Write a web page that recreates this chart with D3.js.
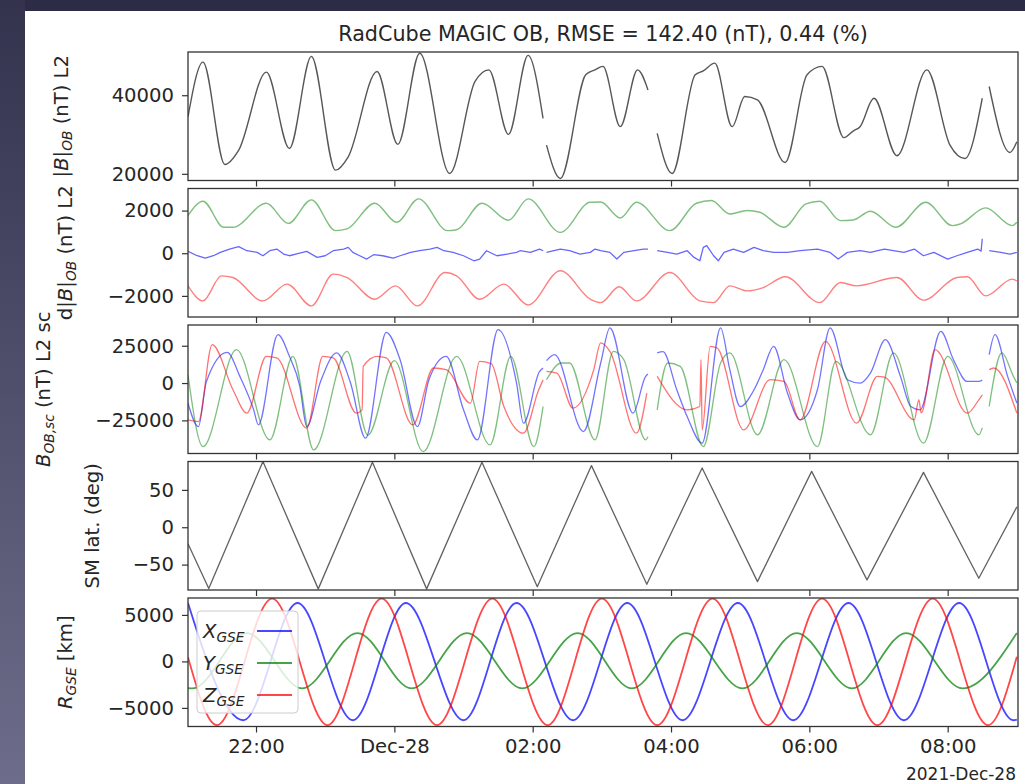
<!DOCTYPE html>
<html><head><meta charset="utf-8">
<script src="https://cdn.jsdelivr.net/npm/d3@7"></script>
<style>
body{margin:0;background:#2d2c46;overflow:hidden}
svg{display:block}
text{font-family:"DejaVu Sans",sans-serif}
</style></head>
<body>
<script>
// ---------------- DATA ----------------
const titleText = "RadCube MAGIC OB, RMSE = 142.40 (nT), 0.44 (%)";
const xTickTimes = ["22:00","00:00","02:00","04:00","06:00","08:00"];
const xTickLabels = ["22:00","Dec-28","02:00","04:00","06:00","08:00"];
const dateLabel = "2021-Dec-28";

const p1Ticks = [20000, 40000];
const p2Ticks = [-2000, 0, 2000];
const p3Ticks = [-25000, 0, 25000];
const p4Ticks = [-50, 0, 50];
const p5Ticks = [-5000, 0, 5000];

// Panel 1: |B|_OB (nT)
const bMag = [["21:01",34500],["21:14",48430],["21:33",22380],["21:45",26030],["22:09",45870],["22:29",26460],["22:48",49880],["23:09",20930],["23:20",24340],["23:45",46050],["00:03",27490],["00:22",50700],["00:48",20080],["01:10",43500],["01:22",46460],["01:39",30040],["01:56",50140],["02:09",34130],["02:10",null],["02:12",27310],["02:24",18800],["02:46",45200],["02:54",46460],["03:01",47330],["03:16",32000],["03:31",46460],["03:40",41350],["03:44",null],["03:48",30300],["04:01",20080],["04:21",45200],["04:28",46200],["04:38",48170],["04:53",32000],["05:04",39670],["05:15",38800],["05:39",22890],["05:58",45200],["06:11",47330],["06:30",29200],["06:38",30880],["06:44",32000],["06:56",39230],["07:16",24600],["07:42",46460],["08:02",27310],["08:15",23910],["08:30",39230],["08:33",null],["08:36",42220],["08:54",25440],["09:00",28170]];

// Panel 2: d|B|_OB (nT)
const dBGreen = [["21:01",1765],["21:14",2440],["21:32",1215],["21:40",1215],["22:09",2345],["22:28",1400],["22:48",2500],["23:09",1060],["23:19",1140],["23:43",2345],["00:02",1450],["00:21",2550],["00:46",1060],["00:54",1100],["01:16",2345],["01:39",1545],["01:56",2550],["02:24",980],["02:50",2390],["02:59",2400],["03:16",1655],["03:30",2390],["03:59",1060],["04:22",2345],["04:35",2470],["04:51",1840],["05:06",2000],["05:17",1920],["05:38",1215],["05:57",2310],["06:09",2440],["06:27",1530],["06:38",1560],["06:53",1970],["07:15",1215],["07:41",2390],["08:04",1295],["08:11",1375],["08:33",2125],["08:56",1295],["09:00",1450]];
const dBBlue = [["21:01",86],["21:09",-118],["21:16",-230],["21:23",-118],["21:29",39],["21:37",196],["21:45",306],["21:52",118],["22:01",39],["22:06",-118],["22:12",118],["22:18",196],["22:24",-39],["22:29",-118],["22:37",-8],["22:44",86],["22:53",-196],["23:00",-118],["23:07",118],["23:16",196],["23:20",273],["23:24",39],["23:30",-118],["23:36",-273],["23:42",-70],["23:50",-118],["23:59",-230],["00:05",-118],["00:14",39],["00:22",118],["00:31",196],["00:37",273],["00:43",118],["00:51",39],["01:00",-118],["01:09",-353],["01:14",-273],["01:20",118],["01:29",-118],["01:38",-39],["01:46",39],["01:49",118],["01:58",39],["02:06",196],["02:09",118],["02:10",null],["02:12",39],["02:24",196],["02:32",118],["02:41",-39],["02:50",39],["02:54",196],["02:59",118],["03:07",39],["03:13",-273],["03:19",39],["03:28",118],["03:36",196],["03:40",196],["03:44",null],["03:48",118],["03:57",39],["04:05",-39],["04:14",118],["04:20",-196],["04:25",-353],["04:28",273],["04:31",353],["04:37",-118],["04:41",-353],["04:46",39],["04:54",196],["05:03",39],["05:12",273],["05:20",118],["05:29",39],["05:41",39],["05:52",118],["06:07",196],["06:18",39],["06:25",-273],["06:33",39],["06:44",118],["06:53",39],["07:05",196],["07:13",118],["07:22",39],["07:31",196],["07:39",-118],["07:48",39],["08:00",-273],["08:08",-118],["08:17",39],["08:26",196],["08:29",100],["08:30",680],["08:33",null],["08:36",118],["08:46",39],["08:54",-39],["09:00",39]];
const dBRed = [["21:01",-1530],["21:14",-2235],["21:30",-1060],["21:40",-1140],["22:06",-2235],["22:27",-1450],["22:48",-2470],["23:07",-980],["23:19",-1140],["23:43",-2155],["00:01",-1530],["00:20",-2470],["00:44",-905],["00:54",-1060],["01:14",-2155],["01:35",-1450],["01:56",-2425],["02:24",-820],["02:50",-2155],["02:59",-2315],["03:15",-1575],["03:30",-2235],["03:59",-905],["04:25",-2235],["04:37",-2315],["04:51",-1530],["05:06",-1765],["05:20",-1610],["05:39",-1105],["06:09",-2315],["06:27",-1375],["06:41",-1530],["07:16",-1140],["07:39",-2200],["08:08",-1140],["08:17",-1105],["08:33",-2000],["08:56",-1215],["09:00",-1300]];

// Panel 3: B_OB,sc (nT)
const bScX = [["21:01",-13440],["21:10",-29170],["21:17",1075],["21:35",20560],["21:46",4480],["21:58",-17940],["22:02",-28020],["22:19",32460],["22:29",17880],["22:38",-2280],["22:44",-29170],["22:56",1075],["23:10",20160],["23:22",0],["23:35",-36960],["23:53",34000],["00:05",15660],["00:20",-29170],["00:30",2240],["00:45",17880],["01:00",-17940],["01:12",-38100],["01:30",35820],["01:46",0],["01:52",-26900],["02:06",7800],["02:09",10000],["02:10",null],["02:12",15000],["02:19",19000],["02:44",-32500],["02:59",13440],["03:07",36960],["03:27",-20160],["03:38",4480],["03:40",6000],["03:44",null],["03:48",20160],["03:53",21000],["04:05",-4500],["04:14",-22450],["04:27",-40300],["04:43",36960],["04:51",8940],["05:00",-15720],["05:12",-4500],["05:20",8940],["05:29",24600],["05:41",-6720],["05:52",-24660],["06:07",-4500],["06:18",36960],["06:33",2240],["06:44",0],["06:53",6720],["07:06",29100],["07:19",4480],["07:28",-15720],["07:36",-17940],["07:54",34680],["08:05",15660],["08:17",1075],["08:27",1075],["08:30",2000],["08:33",null],["08:36",19000],["08:41",32460],["08:52",4480],["09:00",-13440]];
const bScY = [["21:01",5580],["21:14",-42600],["21:43",22380],["22:12",-38100],["22:32",17880],["22:50",-44820],["23:19",21240],["23:37",-35000],["00:00",15000],["00:25",-45960],["00:54",17880],["01:23",-41460],["01:41",17880],["02:01",-42600],["02:09",-15720],["02:10",null],["02:12",2240],["02:25",13440],["02:32",13440],["02:54",-38100],["03:10",21240],["03:19",15660],["03:38",-38100],["03:40",-36000],["03:44",null],["03:48",-17940],["03:57",13440],["04:08",11200],["04:28",-42600],["04:43",13440],["04:51",20160],["05:15",-34700],["05:38",15660],["06:07",-42600],["06:23",14520],["06:53",-34700],["07:13",20160],["07:39",-40300],["08:00",17880],["08:27",-34700],["08:30",-30000],["08:33",null],["08:36",-15720],["08:47",20160],["08:57",4480],["09:00",0]];
const bScZ = [["21:01",-24660],["21:10",-25800],["21:22",25740],["21:40",-4500],["21:52",-20160],["22:09",17880],["22:18",16800],["22:44",-30240],["22:58",17880],["23:07",16800],["23:27",-20160],["23:32",-18000],["23:33",11200],["23:45",17880],["23:53",16800],["00:16",-28020],["00:34",10080],["00:45",8940],["01:06",-13440],["01:14",14520],["01:24",13000],["01:35",-15720],["01:52",-33600],["02:05",-5000],["02:09",2000],["02:10",null],["02:12",7800],["02:21",6720],["02:35",-16800],["02:53",8960],["02:59",26880],["03:07",21240],["03:30",-33600],["03:39",-6720],["03:44",null],["03:48",4480],["04:14",-17940],["04:25",-15720],["04:26",15660],["04:27",-31400],["04:34",24600],["04:40",23500],["05:03",-31400],["05:26",2240],["05:38",1075],["05:52",-24660],["06:14",27960],["06:41",-26880],["06:59",4480],["07:05",4000],["07:31",-24660],["07:35",-11200],["07:37",-20000],["07:49",22380],["08:17",-20160],["08:27",-11200],["08:30",-8000],["08:33",null],["08:36",8960],["08:40",10080],["09:00",-20160]];

// Panel 4: SM latitude (deg)
const smLat = [["21:01",-22],["21:19",-82],["22:06",88],["22:54",-82.5],["23:41",87],["00:28",-82.5],["01:16",87],["02:04",-79.6],["02:51",82.5],["03:39",-76.4],["04:27",79.4],["05:15",-72.8],["06:02",74.8],["06:50",-70.5],["07:39",73.4],["08:27",-68.3],["09:00",27.2]];

// Panel 5: R_GSE (km)
const gseX = [["21:01",6280],["21:49",-6330],["22:36",6280],["23:24",-6330],["00:10",6280],["01:00",-6330],["01:46",6280],["02:35",-6330],["03:22",6280],["04:10",-6330],["04:58",6280],["05:46",-6330],["06:34",6280],["07:22",-6330],["08:10",6280],["08:57",-6330],["09:00",-6250]];
const gseY = [["21:01",-2880],["21:05",-2900],["21:52",3050],["22:40",-2900],["23:28",3050],["00:15",-2900],["01:03",3050],["01:51",-2900],["02:39",3050],["03:26",-2900],["04:13",3050],["05:02",-2900],["05:49",3050],["06:37",-2900],["07:24",3050],["08:13",-2900],["09:00",3050]];
const gseZ = [["21:01",450],["21:26",-6850],["22:14",6750],["23:02",-6850],["23:49",6750],["00:37",-6850],["01:25",6750],["02:13",-6850],["03:00",6750],["03:48",-6850],["04:36",6750],["05:24",-6850],["06:11",6750],["06:59",-6850],["07:47",6750],["08:35",-6850],["09:00",500]];
const legendNames = ["X","Y","Z"];
const legendSub = "GSE";

// ---------------- DRAWING ----------------
const W = 1025, H = 784;
const FS = 19.6;      // tick labels / y labels
const FS_TITLE = 20.7;
const FS_DATE = 17;
const parseT = s => { const [h, m] = s.split(":").map(Number); return new Date(2021, 11, h >= 12 ? 27 : 28, h, m); };
const fmtNum = d => d < 0 ? "\u2212" + Math.abs(d) : String(d);

const svg = d3.select("body").append("svg").attr("width", W).attr("height", H);
const defs = svg.append("defs");
const lg = defs.append("linearGradient").attr("id", "lg").attr("x1", 0).attr("y1", 0).attr("x2", 0).attr("y2", 1);
lg.append("stop").attr("offset", "0%").attr("stop-color", "#34334e");
lg.append("stop").attr("offset", "100%").attr("stop-color", "#6d6c8a");
svg.append("rect").attr("width", W).attr("height", H).attr("fill", "#2d2c46");
svg.append("rect").attr("width", 25).attr("height", H).attr("fill", "url(#lg)");
svg.append("rect").attr("x", 25).attr("y", 11).attr("width", W - 25).attr("height", H - 11).attr("fill", "#ffffff");

const X0 = 188, X1 = 1018, PH = 128.5;
const tops = [52, 188.5, 325, 461.5, 598];
const x = d3.scaleTime().domain([new Date(2021, 11, 27, 21, 1), new Date(2021, 11, 28, 9, 1)]).range([X0, X1]);
const xTicks = xTickTimes.map(parseT);

const panels = [
  { domain: [18300, 51000], ticks: p1Ticks, labelX: 61,
    label: [["|",""],["B","i"],["|",""],["OB","s"],[" (nT) L2",""]],
    series: [{ data: bMag, color: "#3a3a3a", op: 0.85, w: 1.4, curve: d3.curveMonotoneX }] },
  { domain: [-2990, 3035], ticks: p2Ticks, labelX: 65,
    label: [["d|",""],["B","i"],["|",""],["OB","s"],[" (nT) L2",""]],
    series: [
      { data: dBGreen, color: "#008000", op: 0.5, w: 1.4, curve: d3.curveMonotoneX },
      { data: dBBlue, color: "#0000ff", op: 0.6, w: 1.3, curve: d3.curveLinear },
      { data: dBRed, color: "#ff0000", op: 0.5, w: 1.4, curve: d3.curveMonotoneX } ] },
  { domain: [-47200, 38900], ticks: p3Ticks, labelX: 43,
    label: [["B","i"],["OB,sc","s"],[" (nT) L2 sc",""]],
    series: [
      { data: bScX, color: "#0000ff", op: 0.55, w: 1.3, curve: d3.curveMonotoneX },
      { data: bScY, color: "#008000", op: 0.5, w: 1.3, curve: d3.curveMonotoneX },
      { data: bScZ, color: "#ff0000", op: 0.55, w: 1.3, curve: d3.curveMonotoneX } ] },
  { domain: [-84, 88], ticks: p4Ticks, labelX: 92,
    label: [["SM lat. (deg)",""]],
    series: [{ data: smLat, color: "#3a3a3a", op: 0.8, w: 1.3, curve: d3.curveLinear }] },
  { domain: [-7000, 6820], ticks: p5Ticks, labelX: 65,
    label: [["R","i"],["GSE","s"],[" [km]",""]],
    series: [
      { data: gseX, color: "#0000ff", op: 0.72, w: 1.8, curve: d3.curveMonotoneX },
      { data: gseY, color: "#008000", op: 0.72, w: 1.8, curve: d3.curveMonotoneX },
      { data: gseZ, color: "#ff0000", op: 0.72, w: 1.8, curve: d3.curveMonotoneX } ] }
];

function styleAxis(g) {
  g.attr("font-size", null).attr("font-family", null);
  g.select(".domain").remove();
  g.selectAll(".tick line").attr("stroke", "#333").attr("stroke-width", 1.2);
  g.selectAll(".tick text").attr("fill", "#262626").style("font-size", FS + "px").style("font-family", "DejaVu Sans");
}

function mathText(sel, parts, size) {
  let shifted = false;
  parts.forEach(([t, st]) => {
    const ts = sel.append("tspan").text(t);
    if (st === "i") ts.attr("font-style", "italic");
    if (st === "s") {
      ts.attr("font-style", "italic").style("font-size", (size * 0.7) + "px").attr("dy", size * 0.22);
      shifted = true;
    } else if (shifted) {
      ts.attr("dy", -size * 0.22); shifted = false;
    }
  });
}

panels.forEach((p, i) => {
  const top = tops[i];
  const y = d3.scaleLinear().domain(p.domain).range([top + PH, top]);
  const g = svg.append("g");
  const cid = "clip" + i;
  defs.append("clipPath").attr("id", cid).append("rect")
    .attr("x", X0).attr("y", top).attr("width", X1 - X0).attr("height", PH);

  const lines = g.append("g").attr("clip-path", `url(#${cid})`);
  p.series.forEach(s => {
    const line = d3.line()
      .defined(d => d[1] !== null)
      .x(d => x(parseT(d[0])))
      .y(d => y(d[1]))
      .curve(s.curve);
    lines.append("path").attr("d", line(s.data)).attr("fill", "none")
      .attr("stroke", s.color).attr("stroke-opacity", s.op).attr("stroke-width", s.w)
      .attr("stroke-linejoin", "round");
  });

  const ya = g.append("g").attr("transform", `translate(${X0},0)`)
    .call(d3.axisLeft(y).tickValues(p.ticks).tickSize(6).tickPadding(8).tickFormat(fmtNum));
  styleAxis(ya);

  const xa = g.append("g").attr("transform", `translate(0,${top + PH})`)
    .call(d3.axisBottom(x).tickValues(xTicks).tickSize(6).tickPadding(7)
      .tickFormat((d, k) => i === 4 ? xTickLabels[k] : ""));
  styleAxis(xa);

  g.append("rect").attr("x", X0).attr("y", top).attr("width", X1 - X0).attr("height", PH)
    .attr("fill", "none").attr("stroke", "#333").attr("stroke-width", 1.3);

  const lt = g.append("text")
    .attr("transform", `translate(${p.labelX},${top + PH / 2}) rotate(-90)`)
    .attr("y", 7).attr("text-anchor", "middle").attr("fill", "#262626")
    .style("font-size", FS + "px");
  mathText(lt, p.label, FS);

  if (i === 4) {
    const lgG = g.append("g");
    lgG.append("rect").attr("x", 197).attr("y", 611).attr("width", 101).attr("height", 102)
      .attr("rx", 4).attr("fill", "#fff").attr("fill-opacity", 0.8)
      .attr("stroke", "#cccccc").attr("stroke-width", 1);
    p.series.forEach((s, k) => {
      const cy = 631 + k * 32;
      const t = lgG.append("text").attr("x", 203).attr("y", cy + 7).attr("fill", "#262626")
        .style("font-size", FS + "px");
      mathText(t, [[legendNames[k], "i"], [legendSub, "s"]], FS);
      lgG.append("line").attr("x1", 257).attr("x2", 292).attr("y1", cy).attr("y2", cy)
        .attr("stroke", s.color).attr("stroke-opacity", s.op).attr("stroke-width", s.w);
    });
  }
});

svg.append("text").attr("x", (X0 + X1) / 2).attr("y", 41).attr("text-anchor", "middle")
  .attr("fill", "#262626").style("font-size", FS_TITLE + "px").text(titleText);
svg.append("text").attr("x", 1016).attr("y", 780).attr("text-anchor", "end")
  .attr("fill", "#262626").style("font-size", FS_DATE + "px").text(dateLabel);
</script>
</body></html>
